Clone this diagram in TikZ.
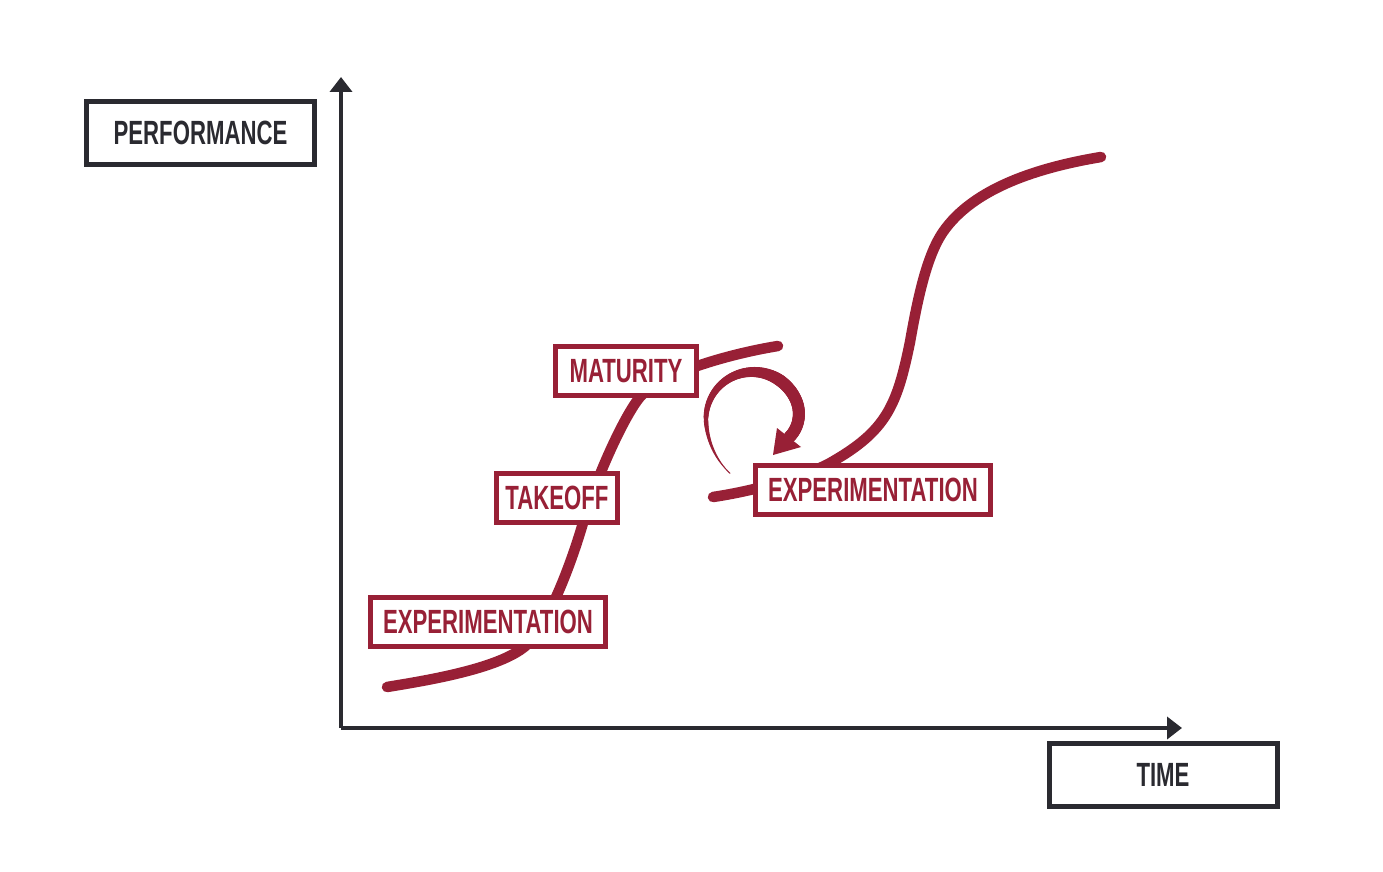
\documentclass[tikz,border=0pt]{standalone}
\usepackage{fontspec}
\newfontfamily\lblfont[FakeStretch=0.66]{Liberation Sans}
\usetikzlibrary{arrows.meta,calc}
\definecolor{myred}{RGB}{152,32,54}
\definecolor{mydark}{RGB}{42,42,48}
\tikzset{
  lbl/.style={font=\lblfont\bfseries\fontsize{16.8}{20}\selectfont},
  redbox/.style={lbl, draw=myred, line width=2.5pt, fill=white, text=myred, inner sep=0pt, minimum height=24.5pt},
  darkbox/.style={lbl, draw=mydark, line width=2.5pt, fill=white, text=mydark, inner sep=0pt, minimum height=31.5pt, minimum width=114pt},
  scurve/.style={draw=myred, line width=5.25pt, line cap=round},
  axis/.style={draw=mydark, line width=2pt, -{Triangle[length=7.5pt,width=11pt]}}
}
\begin{document}
\begin{tikzpicture}[x=0.5pt,y=-0.5pt]
\useasboundingbox (0,0) rectangle (1383,872);
% axes
\coordinate (origin) at (341,728);
\coordinate (ytip) at (341,77);
\coordinate (xtip) at (1182,728);
\draw[axis] (origin) -- (ytip);
\draw[axis] (origin) -- (xtip);
% first S-curve
\coordinate (c1a) at (387,687);
\coordinate (c1b) at (523,648);
\coordinate (c1c) at (583,523);
\coordinate (c1d) at (640,397);
\coordinate (c1e) at (778,346);
\draw[scurve] (c1a) .. controls (430,680) and (495,669) .. (c1b)
  .. controls (547,630) and (572,561) .. (c1c)
  .. controls (595,480) and (624,416) .. (c1d)
  .. controls (659.5,374) and (728.5,354) .. (c1e);
% second S-curve
\coordinate (c2a) at (713,497);
\coordinate (c2b) at (830,463);
\coordinate (c2c) at (910,342);
\coordinate (c2d) at (943,232);
\coordinate (c2e) at (1101,157);
\draw[scurve] (c2a) .. controls (760,490) and (808,475) .. (c2b)
  .. controls (886.5,431) and (897,405.7) .. (c2c)
  .. controls (917,302.6) and (926,256.6) .. (c2d)
  .. controls (974,187) and (1041,167) .. (c2e);
% labels
\node[darkbox] (perf) at (200.5,133) {PERFORMANCE};
\node[darkbox] (time) at (1163,775) {TIME};
\node[redbox, minimum width=117.5pt] (exp1) at (488,622) {EXPERIMENTATION};
\node[redbox, minimum width=60.5pt] (take) at (557,498) {TAKEOFF};
\node[redbox, minimum width=70.5pt] (mat) at (626,371) {MATURITY};
\node[redbox, minimum width=117.5pt] (exp2) at (873,489.5) {EXPERIMENTATION};
% circular arrow: tapered spiral band
\coordinate (cc) at (753,419);
\foreach \a in {113,115,...,385} {
  \pgfmathsetmacro{\b}{\a+2}
  \pgfmathsetmacro{\ra}{47 + 12*(max(0,175-\a)/62)^2 - 6.5*(max(0,\a-335)/52)^2}
  \pgfmathsetmacro{\rb}{47 + 12*(max(0,175-\b)/62)^2 - 6.5*(max(0,\b-335)/52)^2}
  \pgfmathsetmacro{\w}{max(1,min(12,4+(\a-170)*0.06))/2}
  \draw[myred, line width=\w pt, line cap=round] ($(cc)+(\a:\ra)$) -- ($(cc)+(\b:\rb)$);
}
\coordinate (ahl) at (777,428);
\coordinate (ahr) at (801,447);
\coordinate (aht) at (773,455);
\fill[myred] (ahl) -- (ahr) -- (aht) -- cycle;
\end{tikzpicture}
\end{document}
